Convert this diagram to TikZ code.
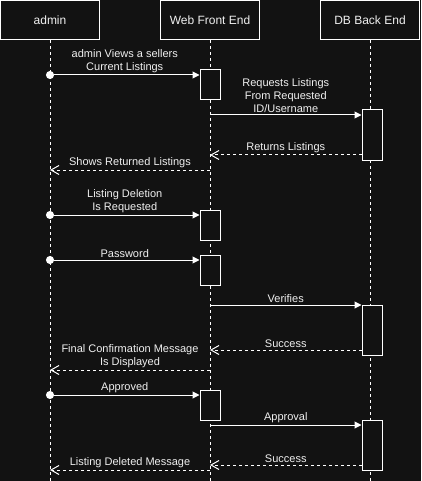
\documentclass[tikz,border=0pt]{standalone}
\usepackage{fontspec}
\setmainfont{Liberation Sans}
\usetikzlibrary{arrows.meta, positioning, calc}
\definecolor{NightBg}{HTML}{121212}
\definecolor{InkWhite}{HTML}{F0F0F0}

\begin{document}
\begin{tikzpicture}[x=1pt, y=-1pt,
    actor/.style={draw=white, line width=1pt, fill=NightBg, text=InkWhite, minimum width=99pt, minimum height=39pt, inner sep=0pt, font=\fontsize{12}{14}\selectfont},
    lifeline/.style={draw=white, line width=1pt, dash pattern=on 3pt off 3pt},
    activation/.style={draw=white, line width=1pt, fill=NightBg, minimum width=20pt, minimum height=30pt, inner sep=0pt},
    request/.style={draw=white, line width=1pt, shorten <=-4pt, {Circle[length=8pt]}-{Triangle[length=7pt,width=7pt]}},
    relay/.style={draw=white, line width=1pt, -{Triangle[length=7pt,width=7pt]}},
    reply/.style={draw=white, line width=1pt, dash pattern=on 3pt off 3pt, -{Straight Barb[length=8pt,width=9pt]}},
    msg/.style={text=InkWhite, font=\fontsize{11}{13}\selectfont, align=center, inner sep=2pt}
]
    % Canvas
    \fill[NightBg] (0,0) rectangle (421,481);
    \useasboundingbox (0,0) rectangle (421,481);

    % Participants
    \node[actor] (admin) at (50,20) {admin};
    \node[actor] (web) at (210,20) {Web Front End};
    \node[actor] (db) at (370,20) {DB Back End};

    % Lifelines
    \draw[lifeline] (admin.south) -- (admin.south |- 0,481);
    \draw[lifeline] (web.south) -- (web.south |- 0,481);
    \draw[lifeline] (db.south) -- (db.south |- 0,481);

    % Activations
    \node[activation] (web1) at (210,85) {};
    \node[activation, minimum height=50pt] (db1) at (372,135) {};
    \node[activation] (web2) at (210,225) {};
    \node[activation] (web3) at (210,270) {};
    \node[activation, minimum height=50pt] (db2) at (372,330) {};
    \node[activation] (web4) at (210,405) {};
    \node[activation, minimum height=50pt] (db3) at (372,445) {};

    % Viewing the listings
    \coordinate (view) at (50,75);
    \draw[request] (view) -- (view -| web1.west) node[msg, midway, above] {admin Views a sellers\\Current Listings};
    \coordinate (fetch) at (210,115);
    \draw[relay] (fetch) -- (fetch -| db1.west) node[msg, midway, above] {Requests Listings\\From Requested\\ID/Username};
    \coordinate (back) at (210,155);
    \draw[reply] (back -| db1.west) -- (back) node[msg, midway, above] {Returns Listings};
    \coordinate (shown) at (50,170);
    \draw[reply] (shown -| web.south) -- (shown) node[msg, midway, above] {Shows Returned Listings};

    % Deleting a listing
    \coordinate (delete) at (50,215);
    \draw[request] (delete) -- (delete -| web2.west) node[msg, midway, above] {Listing Deletion\\Is Requested};
    \coordinate (pass) at (50,260);
    \draw[request] (pass) -- (pass -| web3.west) node[msg, midway, above] {Password};
    \coordinate (verify) at (210,305);
    \draw[relay] (verify) -- (verify -| db2.west) node[msg, midway, above] {Verifies};
    \coordinate (ok1) at (210,350);
    \draw[reply] (ok1 -| db2.west) -- (ok1) node[msg, midway, above] {Success};
    \coordinate (confirm) at (50,370);
    \draw[reply] (confirm -| web.south) -- (confirm) node[msg, midway, above] {Final Confirmation Message\\Is Displayed};

    % Approval
    \coordinate (approved) at (50,395);
    \draw[request] (approved) -- (approved -| web4.west) node[msg, midway, above] {Approved};
    \coordinate (approval) at (210,425);
    \draw[relay] (approval) -- (approval -| db3.west) node[msg, midway, above] {Approval};
    \coordinate (ok2) at (210,465);
    \draw[reply] (ok2 -| db3.west) -- (ok2) node[msg, midway, above] {Success};
    \coordinate (deleted) at (50,470);
    \draw[reply] (deleted -| web.south) -- (deleted) node[msg, midway, above] {Listing Deleted Message};
\end{tikzpicture}
\end{document}
